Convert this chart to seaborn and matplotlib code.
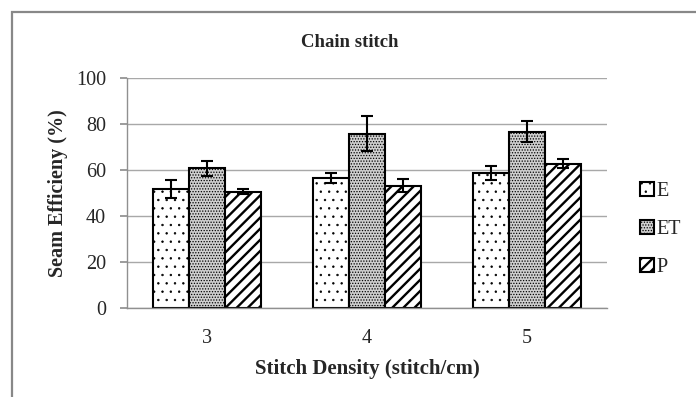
import pandas as pd
import seaborn as sns
import matplotlib.pyplot as plt
from matplotlib.patches import Rectangle

# --- Dados ---
densities = ["3", "4", "5"]
series = ["E", "ET", "P"]
vals_E = [51.6, 56.7, 58.7]
vals_ET = [60.8, 75.9, 76.7]
vals_P = [50.6, 53.2, 62.8]
err_E = [4.0, 2.2, 3.2]
err_ET = [3.2, 7.6, 4.6]
err_P = [1.2, 3.0, 1.8]

y_ticks = [0, 20, 40, 60, 80, 100]

sns.set_theme(style="white")
plt.rcParams['font.family'] = ['Liberation Serif', 'DejaVu Serif']
plt.rcParams['hatch.linewidth'] = 0.6

df = pd.DataFrame({
    "density": densities * 3,
    "serie": [s for s in series for _ in densities],
    "valor": vals_E + vals_ET + vals_P,
    "erro": err_E + err_ET + err_P,
})

fig = plt.figure(figsize=(6.96, 3.97), dpi=100)
ax = fig.add_axes([0.1825, 0.225, 0.6897, 0.578])

cores = ["white", "#cfcfcf", "white"]
sns.barplot(data=df, x="density", y="valor", hue="serie", order=densities,
            hue_order=series, errorbar=None, width=0.67, ax=ax,
            palette=cores, edgecolor="black", linewidth=1.5, saturation=1)

hatches = {"E": "..", "ET": "......", "P": "///"}
hatch_lw = {"E": 0.5, "ET": 0.6, "P": 1.7}


def estilo(p, nome):
    p.set_hatch(hatches[nome])
    if hasattr(p, "set_hatch_linewidth"):
        p.set_hatch_linewidth(hatch_lw[nome])


for cont, nome in zip(ax.containers, series):
    sub = df[df["serie"] == nome].set_index("density").loc[densities]
    for bar in cont:
        estilo(bar, nome)
    xs = [b.get_x() + b.get_width() / 2 for b in cont]
    ax.errorbar(xs, sub["valor"], yerr=sub["erro"], fmt="none",
                ecolor="black", elinewidth=1.5, capsize=4, capthick=1.5, zorder=5)

ax.set_ylim(0, 100)
ax.set_xlim(-0.5, 2.5)
ax.set_yticks(y_ticks)
ax.yaxis.grid(True, color="#a8a8a8", linewidth=1)
ax.set_axisbelow(True)
for s in ["top", "right"]:
    ax.spines[s].set_visible(False)
for s in ["left", "bottom"]:
    ax.spines[s].set_color("#909090")
    ax.spines[s].set_linewidth(1)
ax.tick_params(axis="y", length=5, color="#909090", pad=10, labelsize=14.5, left=True)
ax.tick_params(axis="x", length=0, pad=15, labelsize=14.5)

ax.set_xlabel("Stitch Density (stitch/cm)", fontsize=15, fontweight="bold", labelpad=8)
ax.set_ylabel("Seam Efficieny (%)", fontsize=14.5, fontweight="bold", labelpad=6)
fig.text(0.503, 0.893, "Chain stitch", ha="center", va="center",
         fontsize=13.5, fontweight="bold")

leg = ax.legend(loc="center left", bbox_to_anchor=(1.03, 0.34), frameon=False,
                fontsize=14.5, handlelength=0.7, handleheight=0.7,
                handletextpad=0.15, labelspacing=0.95)
for h, nome, c in zip(leg.legend_handles, series, cores):
    h.set_facecolor(c)
    h.set_edgecolor("black")
    h.set_linewidth(1.5)
    estilo(h, nome)

# moldura cinza do gráfico
fig.add_artist(Rectangle((12 / 696, -0.2), 2, 0.97 + 0.2, transform=fig.transFigure,
                         fill=False, edgecolor="#888888", linewidth=1.6))

fig.savefig("out.png", dpi=100)
